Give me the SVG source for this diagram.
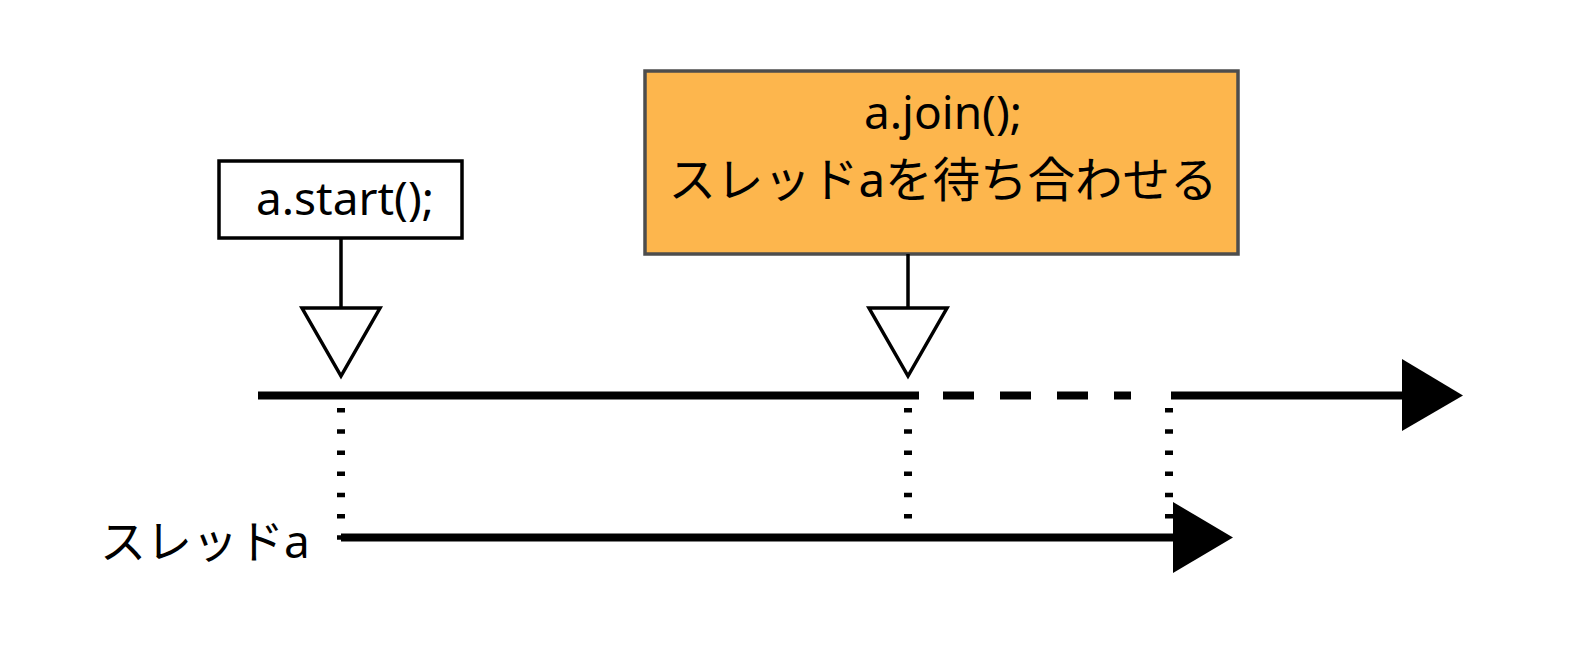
<svg xmlns="http://www.w3.org/2000/svg" width="1579" height="663" viewBox="0 0 1579 663">
<style>
.t{font-family:"Noto Sans","Noto Sans CJK JP",sans-serif;font-size:46px;fill:#000}
.box{stroke-width:3.5}
.stem{stroke:#000;stroke-width:3.5;fill:none}
.tri{fill:#fff;stroke:#000;stroke-width:3.5;stroke-linejoin:miter}
.line{stroke:#000;stroke-width:8;fill:none}
.dot{stroke:#000;stroke-width:8;fill:none;stroke-dasharray:4.5 16.7}
</style>
<rect width="1579" height="663" fill="#fff"/>
<g id="connectors">
<line class="line" x1="258" y1="395.5" x2="919" y2="395.5"/>
<line class="line" x1="943" y1="395.5" x2="1131" y2="395.5" stroke-dasharray="31 26"/>
<line class="line" x1="1171" y1="395.5" x2="1403" y2="395.5"/>
<polygon points="1402,359 1402,431 1463,395.5" fill="#000"/>
<line class="dot" x1="341" y1="408" x2="341" y2="540"/>
<line class="dot" x1="908" y1="408" x2="908" y2="520"/>
<line class="dot" x1="1169" y1="408" x2="1169" y2="520"/>
<line class="line" x1="341" y1="537.5" x2="1174" y2="537.5"/>
<polygon points="1173,502 1173,573 1233,537.5" fill="#000"/>
</g>
<g id="start">
<rect class="box" x="219" y="161" width="243" height="77" fill="#fff" stroke="#000"/>
<text class="t" x="345" y="214.5" text-anchor="middle">a.start();</text>
<line class="stem" x1="341" y1="238" x2="341" y2="308"/>
<polygon class="tri" points="302,308 380,308 341,376"/>
</g>
<g id="join">
<rect class="box" x="645" y="71" width="593" height="183" fill="#FDB64D" stroke="#4D4D4D"/>
<text class="t" x="943" y="129" text-anchor="middle">a.join();</text>
<text class="t" x="943" y="197" text-anchor="middle" style="font-size:47.5px">スレッドaを待ち合わせる</text>
<line class="stem" x1="908" y1="254" x2="908" y2="308"/>
<polygon class="tri" points="869,308 947,308 908,376"/>
</g>
<g id="thread-a">
<text class="t" x="100" y="558">スレッドa</text>
</g>
</svg>
